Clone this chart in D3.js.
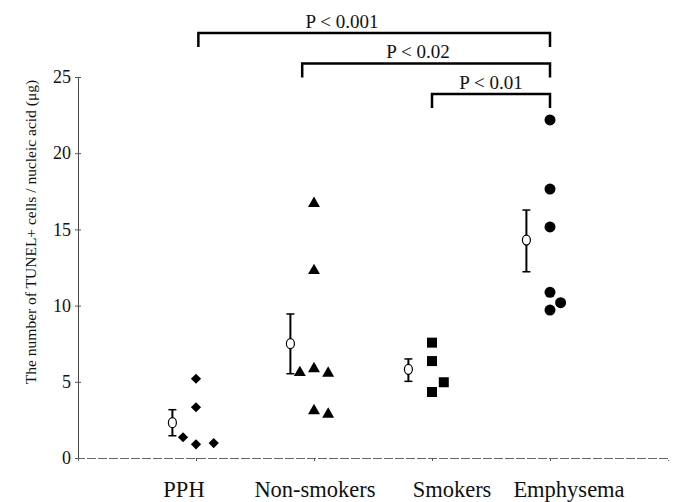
<!DOCTYPE html>
<html>
<head>
<meta charset="utf-8">
<script src="https://cdn.jsdelivr.net/npm/d3@7"></script>
<style>
  body { margin: 0; background: #fff; }
  text { font-family: "Liberation Serif", "Times New Roman", serif; fill: #111; }
</style>
</head>
<body>
<div id="graphdiv"></div>
<script>
// groups on the x axis (position 1..4)
var groups = ["PPH", "Non-smokers", "Smokers", "Emphysema"];
var yTicks = [0, 5, 10, 15, 20, 25];

// individual values, with a small horizontal offset (in group units)
var pphVals = [5.2, 3.33, 1.36, 0.9, 0.98];
var pphOff = [0, 0, -0.11, 0, 0.15];
var nonVals = [16.7, 12.3, 5.6, 5.86, 5.56, 3.1, 2.87];
var nonOff = [0, 0, -0.12, 0, 0.12, 0, 0.12];
var smkVals = [7.57, 6.36, 4.97, 4.33];
var smkOff = [0, 0, 0.1, 0];
var empVals = [22.18, 17.65, 15.16, 10.87, 10.19, 9.71];
var empOff = [0, 0, 0, 0, 0.09, 0];

// mean and error bar (low / high) per group
var means = [2.32, 7.5, 5.82, 14.3];
var errLow = [1.46, 5.53, 5.03, 12.22];
var errHigh = [3.17, 9.45, 6.5, 16.27];

// significance brackets (x in group units)
var brFrom = [1.02, 1.9, 3.0];
var brTo = [4.0, 4.0, 4.0];
var brLabel = ["P < 0.001", "P < 0.02", "P < 0.01"];

var W = 676, H = 502;
var svg = d3.select("#graphdiv").append("svg").attr("width", W).attr("height", H);

var x = d3.scaleLinear().domain([0, 5]).range([78, 668]);
var y = d3.scaleLinear().domain([0, 25]).range([458, 77]);

// axes
var yAxis = d3.axisLeft(y).tickValues(yTicks).tickSize(3).tickPadding(4);
var gy = svg.append("g").attr("transform", "translate(78,0)").call(yAxis);
gy.select(".domain").attr("stroke", "#444").attr("stroke-width", 1);
gy.selectAll(".tick line").attr("stroke", "#555").attr("x2", 3).attr("x1", -3);
gy.selectAll(".tick text").style("font-size", "18px");

var xAxis = d3.axisBottom(x).tickValues([1, 2, 3, 4]).tickSize(3).tickFormat("");
var gx = svg.append("g").attr("transform", "translate(0,458)").call(xAxis);
gx.select(".domain").attr("stroke", "#666").attr("stroke-width", 1).attr("stroke-dasharray", "9,2");
gx.selectAll(".tick line").attr("stroke", "#555");

// group labels (sit slightly off their ticks in the original)
var labelShift = [-12, 1, 20, 19];
svg.selectAll(".grp").data(groups).enter().append("text")
  .attr("class", "grp")
  .attr("x", function(d, i) { return x(i + 1) + labelShift[i]; })
  .attr("y", 497)
  .attr("text-anchor", "middle")
  .style("font-size", "22.5px")
  .text(function(d) { return d; });

// y title
svg.append("text")
  .attr("transform", "translate(36,232) rotate(-90)")
  .attr("text-anchor", "middle")
  .style("font-size", "15.5px")
  .text("The number of TUNEL+ cells / nucleic acid (\u03bcg)");

// points
function drawPoints(vals, offs, gi, type, size, rot) {
  var sym = d3.symbol().type(type).size(size);
  svg.selectAll(null).data(vals).enter().append("path")
    .attr("d", sym)
    .attr("transform", function(d, i) {
      return "translate(" + x(gi + offs[i]) + "," + y(d) + ") rotate(" + rot + ")";
    })
    .attr("fill", "#000");
}
drawPoints(pphVals, pphOff, 1, d3.symbolSquare, 52, 45);
drawPoints(nonVals, nonOff, 2, d3.symbolTriangle, 62, 0);
drawPoints(smkVals, smkOff, 3, d3.symbolSquare, 100, 0);
drawPoints(empVals, empOff, 4, d3.symbolCircle, 95, 0);

// mean +/- error, drawn just left of each group
var eb = svg.append("g");
means.forEach(function(m, i) {
  var cx = x(i + 1 - 0.2);
  eb.append("line").attr("x1", cx).attr("x2", cx).attr("y1", y(errLow[i])).attr("y2", y(errHigh[i]))
    .attr("stroke", "#000").attr("stroke-width", 2);
  [errLow[i], errHigh[i]].forEach(function(v) {
    eb.append("line").attr("x1", cx - 4).attr("x2", cx + 4).attr("y1", y(v)).attr("y2", y(v))
      .attr("stroke", "#000").attr("stroke-width", 1.5);
  });
  eb.append("ellipse").attr("cx", cx).attr("cy", y(m)).attr("rx", 4).attr("ry", 5)
    .attr("fill", "#fff").attr("stroke", "#000").attr("stroke-width", 1.2);
});

// significance brackets
var brY = [33, 63.5, 94];
var brTextX = [342, 418, 491];
brLabel.forEach(function(t, i) {
  var x1 = x(brFrom[i]), x2 = x(brTo[i]);
  svg.append("path")
    .attr("d", "M" + x1 + "," + (brY[i] + 14) + " V" + brY[i] + " H" + x2 + " V" + (brY[i] + 14))
    .attr("fill", "none").attr("stroke", "#000").attr("stroke-width", 2.5);
  svg.append("text")
    .attr("x", brTextX[i])
    .attr("y", brY[i] - 5.5)
    .attr("text-anchor", "middle")
    .style("font-size", "19px")
    .text(t);
});
</script>
</body>
</html>
